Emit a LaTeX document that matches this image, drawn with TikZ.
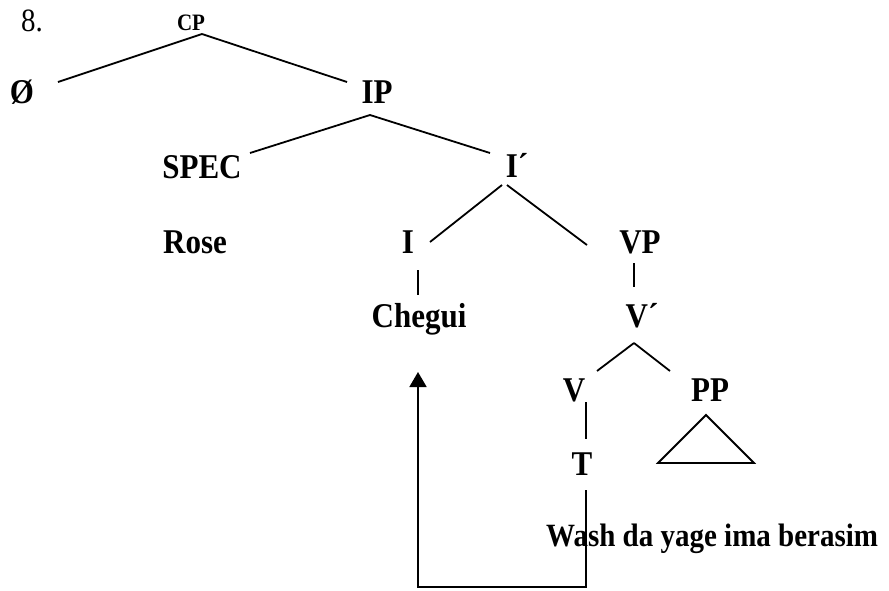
\documentclass[tikz,border=0pt]{standalone}
\usepackage{fontspec}
\setmainfont{Liberation Serif}
\usetikzlibrary{calc,arrows.meta}
\newcommand\tallbox[1]{\scalebox{1}[1.12]{#1}}
\begin{document}
\begin{tikzpicture}[x=1pt,y=-1pt,
  lbl/.style={anchor=base,inner sep=0pt,font=\fontsize{31}{31}\selectfont\bfseries},
  small/.style={anchor=base,inner sep=0pt,font=\fontsize{21}{21}\selectfont\bfseries},
  branch/.style={line width=1.8pt}]
\useasboundingbox (0,0) rectangle (889,590);
\node[anchor=base,inner sep=0pt,font=\fontsize{29}{29}\selectfont] (num) at (32,31) {\tallbox{8.}};
\node[small] (cp) at (191,30) {\tallbox{CP}};
\node[lbl] (phi) at (22,103) {\tallbox{Ø}};
\node[lbl] (ip) at (377,103) {\tallbox{IP}};
\node[lbl] (spec) at (202,178) {\tallbox{SPEC}};
\node[lbl] (ibar) at (517,177) {\tallbox{I´}};
\node[lbl] (rose) at (195,253) {\tallbox{Rose}};
\node[lbl] (i) at (408,253) {\tallbox{I}};
\node[lbl] (vp) at (640,253) {\tallbox{VP}};
\node[lbl] (chegui) at (419,327) {\tallbox{Chegui}};
\node[lbl] (vbar) at (642,327) {\tallbox{V´}};
\node[lbl] (v) at (574,401) {\tallbox{V}};
\node[lbl] (pp) at (710,401) {\tallbox{PP}};
\node[lbl] (t) at (582,475) {\tallbox{T}};
\node[anchor=base west,inner sep=0pt,font=\fontsize{29}{29}\selectfont\bfseries] (wash) at (546,546) {\tallbox{Wash da yage ima berasim}};

\draw[branch] ($(cp.base)+(11,4)$) -- ($(phi.base)+(36,-21)$);
\draw[branch] ($(cp.base)+(11,4)$) -- ($(ip.base)+(-30,-21)$);
\draw[branch] ($(ip.base)+(-7,12)$) -- ($(spec.base)+(48,-25)$);
\draw[branch] ($(ip.base)+(-7,12)$) -- ($(ibar.base)+(-27,-24)$);
\draw[branch] ($(ibar.base)+(-15,8)$) -- ($(i.base)+(22,-11)$);
\draw[branch] ($(ibar.base)+(-10,8)$) -- ($(vp.base)+(-53,-8)$);
\draw[branch] ($(i.base)+(10,17)$) -- ($(chegui.base)+(-1,-32)$);
\draw[branch] ($(vp.base)+(-6,10)$) -- ($(vbar.base)+(-8,-40)$);
\draw[branch] ($(vbar.base)+(-8,16)$) -- ($(v.base)+(23,-30)$);
\draw[branch] ($(vbar.base)+(-8,16)$) -- ($(pp.base)+(-40,-30)$);
\draw[branch] ($(v.base)+(12,1)$) -- ($(t.base)+(4,-36)$);
\draw[branch,line join=miter] ($(pp.base)+(-4,14)$) -- ($(pp.base)+(-52,62)$) -- ($(pp.base)+(44,62)$) -- cycle;
\coordinate (bot) at ($(t.base)+(4,112)$);
\draw[branch,-{Triangle[width=17pt,length=15pt]}] ($(t.base)+(4,15)$) -- (bot) -| ($(chegui.base)+(-1,45)$);
\end{tikzpicture}
\end{document}
